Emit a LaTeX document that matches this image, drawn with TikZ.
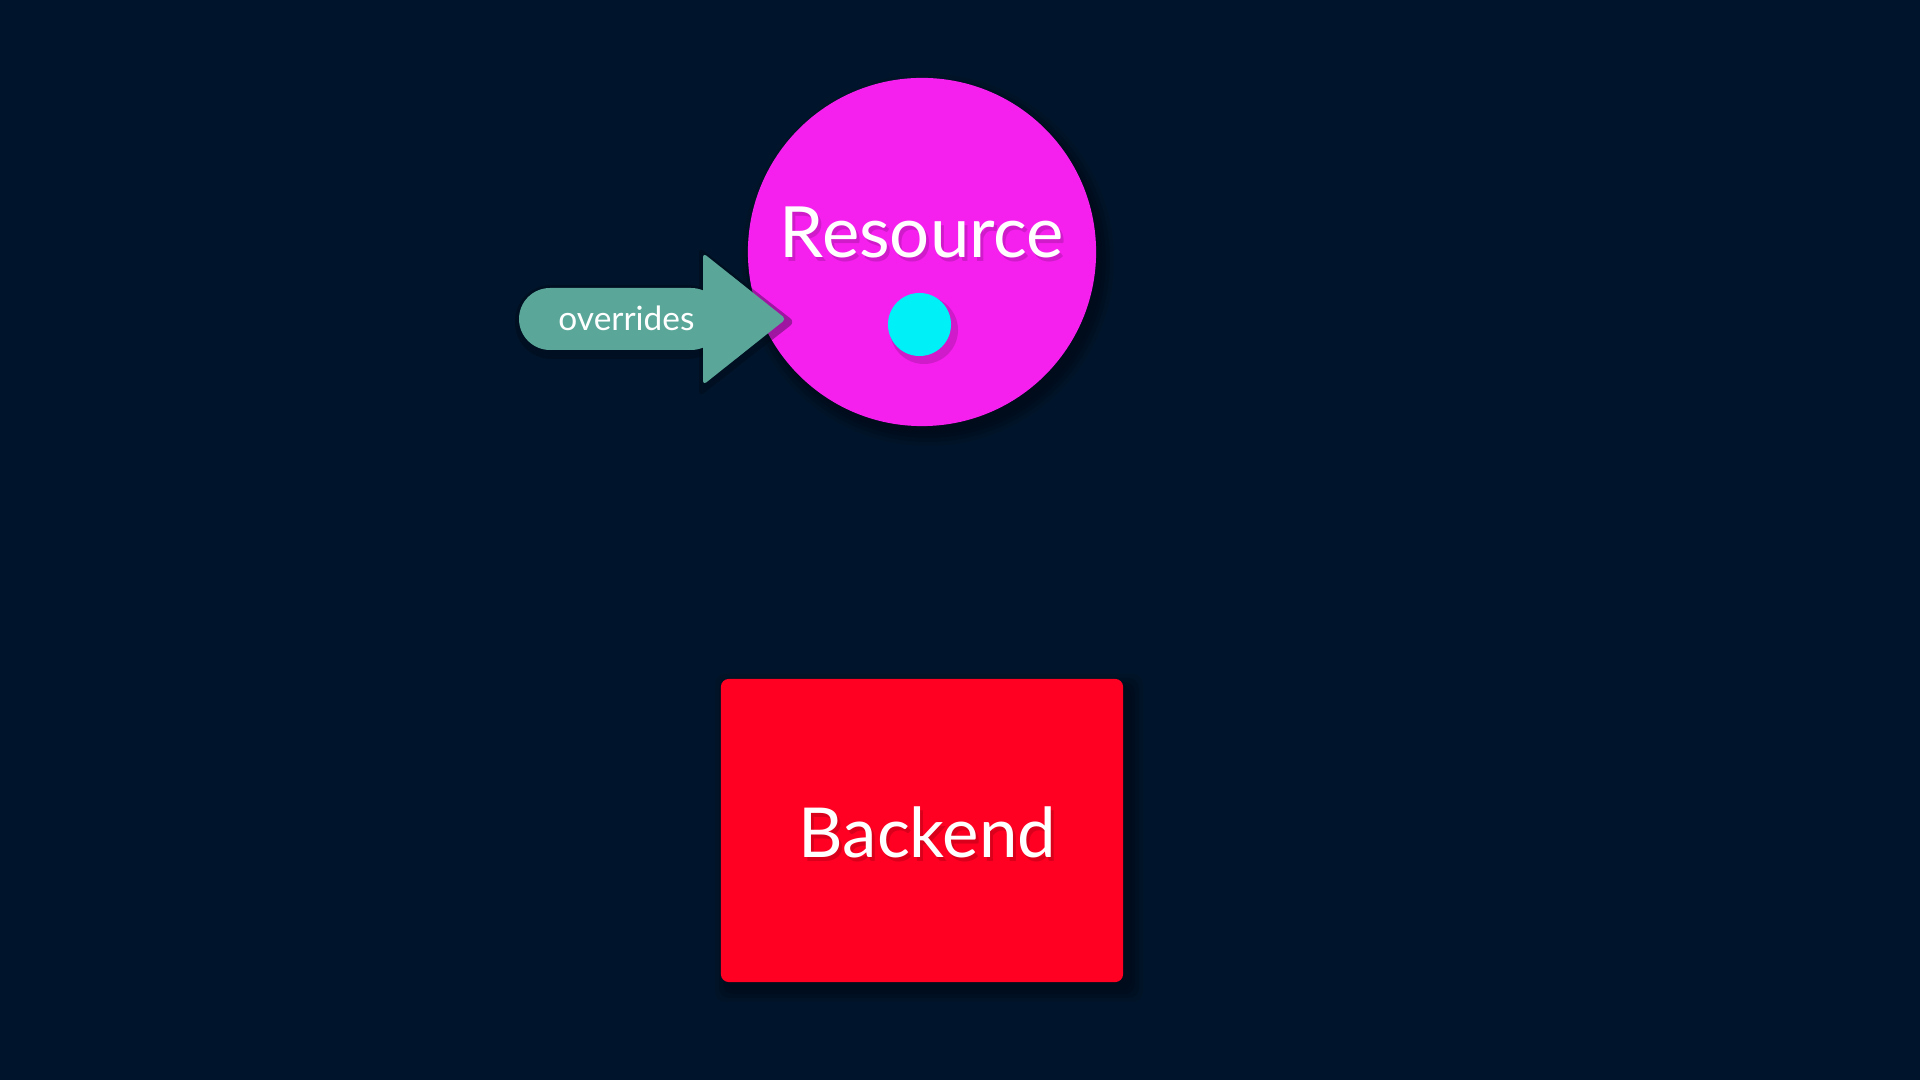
\documentclass[tikz,border=0pt]{standalone}
\usepackage{fontspec}
\setmainfont{Lato}
\definecolor{bg}{HTML}{00152B}
\definecolor{resmag}{HTML}{F520EE}
\definecolor{dotcyan}{HTML}{00F0F8}
\definecolor{bered}{HTML}{FF0022}
\definecolor{arrteal}{HTML}{5AA79A}
\definecolor{shadowcol}{HTML}{000814}
\tikzset{
  bigtext/.style={text=white, font=\fontsize{20.1}{22}\selectfont, anchor=base, inner sep=0},
  txtshadow/.style={text=black, opacity=0.15, font=\fontsize{20.1}{22}\selectfont, anchor=base, inner sep=0},
  smalltext/.style={text=white, font=\fontsize{9.5}{11}\selectfont, anchor=base, inner sep=0},
}
\begin{document}
\begin{tikzpicture}[x=0.01cm,y=-0.01cm]
\useasboundingbox (0,0) rectangle (1920,1080);
\fill[bg] (0,0) rectangle (1920,1080);

% circle shadow
\foreach \r/\o in {186/0.15,182/0.2,178/0.25,174/0.3}{
  \fill[shadowcol, opacity=\o] (928,260) circle[radius=\r*0.01cm];
}
\node[circle, fill=resmag, minimum size=3.48cm, inner sep=0] (res) at (922,252) {};
\node[txtshadow] (resshadow) at (925,262) {Resource};
\node[bigtext] (restext) at (922,258) {Resource};
% cyan dot with shadow
\fill[black, opacity=0.15] (924,330) circle[radius=0.34cm];
\node[circle, fill=dotcyan, minimum size=0.63cm, inner sep=0] (dot) at (919.5,324.5) {};

% arrow shadow
\begin{scope}[shift={(2,3)}]
\fill[shadowcol, opacity=0.35, rounded corners=0.36cm] (513,282) rectangle (722,356);
\fill[shadowcol, opacity=0.35, rounded corners=0.06cm] (697,244) -- (793,319) -- (697,394) -- cycle;
\end{scope}
% arrow
\fill[arrteal, rounded corners=0.31cm] (519,288) rectangle (722,350);
\fill[arrteal, rounded corners=0.04cm] (703,253) -- (786,319) -- (703,385) -- cycle;
\node[smalltext] (ovr) at (626.5,331) {overrides};

% backend shadow
\foreach \g/\o in {12/0.15,8/0.2,4/0.25,0/0.3}{
  \fill[shadowcol, opacity=\o, rounded corners=0.1cm] (727-\g,686-\g) rectangle (1131+\g,990+\g);
}
\node[rectangle, rounded corners=0.08cm, fill=bered, minimum width=4.02cm, minimum height=3.03cm, inner sep=0] (be) at (922,830.5) {};
\node[txtshadow, font=\fontsize{19.6}{22}\selectfont] (beshadow) at (930.5,862) {Backend};
\node[bigtext, font=\fontsize{19.6}{22}\selectfont] (betext) at (927.5,858) {Backend};
\end{tikzpicture}
\end{document}
